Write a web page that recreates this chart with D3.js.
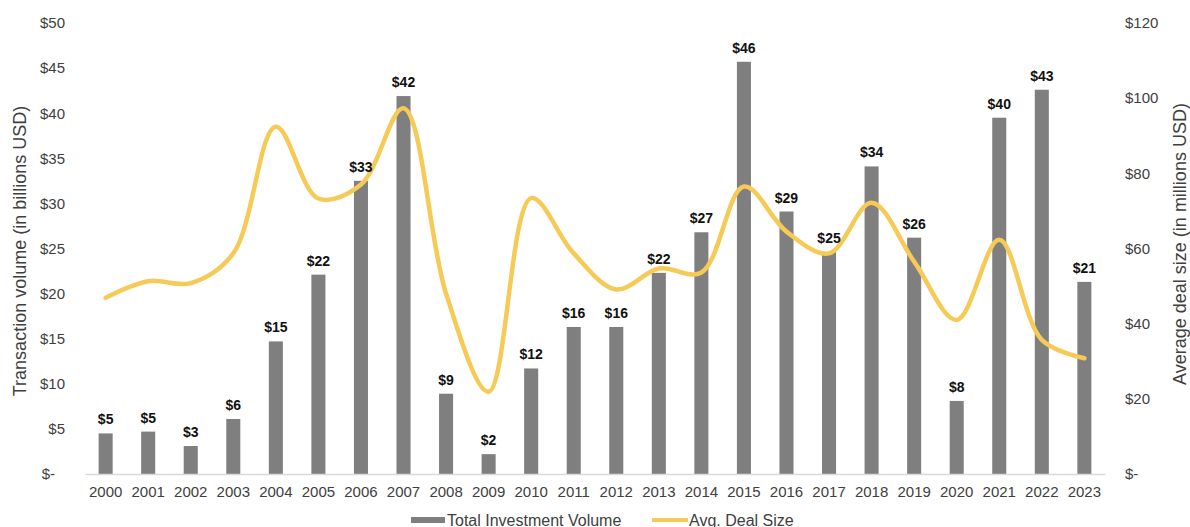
<!DOCTYPE html>
<html>
<head>
<meta charset="utf-8">
<script src="https://cdn.jsdelivr.net/npm/d3@7"></script>
<style>
  html, body { margin: 0; padding: 0; background: #fff; }
  svg { display: block; font-family: "Liberation Sans", Arial, sans-serif; }
</style>
</head>
<body>
<svg id="chart" width="1190" height="527"></svg>
<script>
const years = ["2000","2001","2002","2003","2004","2005","2006","2007","2008","2009","2010","2011","2012","2013","2014","2015","2016","2017","2018","2019","2020","2021","2022","2023"];
const totalInvestmentVolume = [4.5, 4.7, 3.1, 6.1, 14.7, 22.1, 32.5, 41.9, 8.9, 2.2, 11.7, 16.3, 16.3, 22.3, 26.8, 45.7, 29.1, 24.6, 34.1, 26.2, 8.1, 39.5, 42.6, 21.3];
const avgDealSize = [46.9, 51.3, 50.8, 58.7, 92.4, 73.3, 77.0, 97.3, 48.0, 21.9, 73.4, 58.7, 49.1, 54.7, 53.6, 76.5, 64.5, 58.7, 72.2, 56.5, 41.0, 62.3, 35.7, 30.8];
const leftTicks = [0, 5, 10, 15, 20, 25, 30, 35, 40, 45, 50];
const rightTicks = [0, 20, 40, 60, 80, 100, 120];
const seriesNames = ["Total Investment Volume", "Avg. Deal Size"];
const leftTitle = "Transaction volume (in billions USD)";
const rightTitle = "Average deal size (in millions USD)";

const svg = d3.select("#chart");
const plot = { left: 85, right: 1105, top: 23, bottom: 474 };
const barColor = "#7f7f7f";
const lineColor = "#F6CA57";
const textColor = "#404040";

const x = d3.scaleBand().domain(years).range([plot.left, plot.right]).paddingInner(0.67).paddingOuter(0.32);
const yL = d3.scaleLinear().domain([0, 50]).range([plot.bottom, plot.top]);
const yR = d3.scaleLinear().domain([0, 120]).range([plot.bottom, plot.top]);

const fmt = v => v === 0 ? "$-" : "$" + v;

// left axis
const gL = svg.append("g").attr("transform", `translate(${65},0)`)
  .call(d3.axisLeft(yL).tickValues(leftTicks).tickFormat(fmt).tickSize(0).tickPadding(0));
gL.select(".domain").remove();
gL.selectAll("text").attr("font-size", 15).attr("fill", textColor)
  .attr("font-family", "Liberation Sans, Arial, sans-serif")
  .attr("dx", d => d === 0 ? -10 : 0);

// right axis
const gR = svg.append("g").attr("transform", `translate(${1125},0)`)
  .call(d3.axisRight(yR).tickValues(rightTicks).tickFormat(fmt).tickSize(0).tickPadding(0));
gR.select(".domain").remove();
gR.selectAll("text").attr("font-size", 15).attr("fill", textColor)
  .attr("font-family", "Liberation Sans, Arial, sans-serif");

// bars
svg.append("g").selectAll("rect").data(years).join("rect")
  .attr("x", d => x(d))
  .attr("width", x.bandwidth())
  .attr("y", (d, i) => yL(totalInvestmentVolume[i]))
  .attr("height", (d, i) => yL(0) - yL(totalInvestmentVolume[i]))
  .attr("fill", barColor);

// x axis
const gX = svg.append("g").attr("transform", `translate(0,${plot.bottom})`)
  .call(d3.axisBottom(x).tickSize(0).tickPadding(12));
gX.select(".domain").attr("stroke", "#d9d9d9").attr("stroke-width", 1.5);
gX.selectAll("text").attr("font-size", 15).attr("fill", textColor)
  .attr("font-family", "Liberation Sans, Arial, sans-serif");

// line
const line = d3.line()
  .x((d, i) => x(years[i]) + x.bandwidth() / 2)
  .y(d => yR(d))
  .curve(d3.curveCatmullRom.alpha(0.5));
svg.append("path").datum(avgDealSize)
  .attr("d", line)
  .attr("fill", "none")
  .attr("stroke", lineColor)
  .attr("stroke-width", 4.5)
  .attr("stroke-linecap", "round");

// data labels
svg.append("g").selectAll("text").data(years).join("text")
  .attr("x", d => x(d) + x.bandwidth() / 2)
  .attr("y", (d, i) => yL(totalInvestmentVolume[i]) - 9)
  .attr("text-anchor", "middle")
  .attr("font-size", 14)
  .attr("font-weight", "bold")
  .attr("fill", "#111")
  .text((d, i) => "$" + Math.round(totalInvestmentVolume[i]));

// axis titles
svg.append("text")
  .attr("transform", `translate(25.5,251) rotate(-90)`)
  .attr("text-anchor", "middle")
  .attr("font-size", 18)
  .attr("fill", textColor)
  .text(leftTitle);
svg.append("text")
  .attr("transform", `translate(1186,244) rotate(-90)`)
  .attr("text-anchor", "middle")
  .attr("font-size", 18)
  .attr("fill", textColor)
  .text(rightTitle);

// legend
const lg = svg.append("g");
lg.append("rect").attr("x", 411).attr("y", 517).attr("width", 34).attr("height", 6).attr("fill", barColor);
lg.append("text").attr("x", 447).attr("y", 525.5).attr("font-size", 16).attr("fill", textColor).text(seriesNames[0]);
lg.append("line").attr("x1", 652).attr("x2", 688).attr("y1", 520).attr("y2", 520)
  .attr("stroke", lineColor).attr("stroke-width", 4);
lg.append("text").attr("x", 689).attr("y", 525.5).attr("font-size", 16).attr("fill", textColor).text(seriesNames[1]);
</script>
</body>
</html>
